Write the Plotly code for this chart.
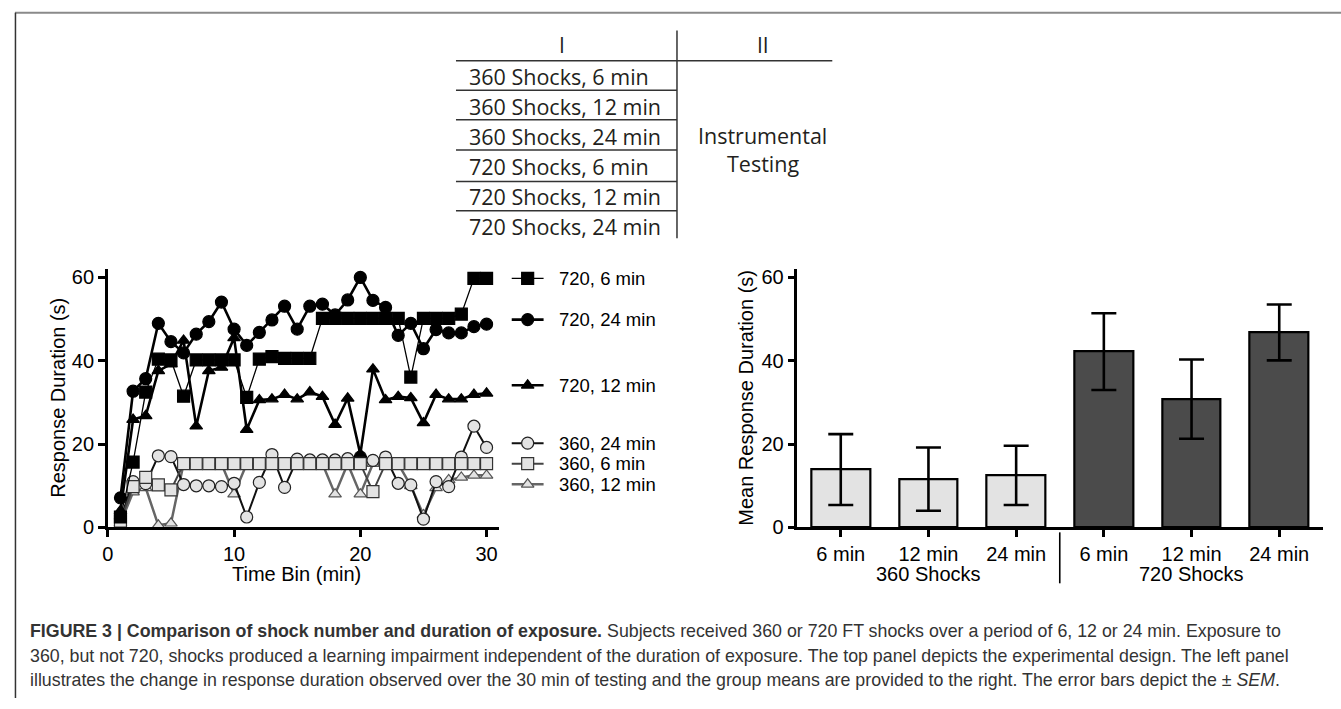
import plotly.graph_objects as go

W, H = 1341, 709
def fx(px):
    return px / W
def fy(py):
    return 1 - py / H

FONT = "Liberation Sans, Arial, sans-serif"
TFONT = "Open Sans, Noto Sans, sans-serif"

# ---------------- data ----------------
bins = list(range(1, 31))
s720_6 = [2.5, 15.7, 32.5, 40.4, 40.2, 31.5, 40.2, 40.2, 40.2, 40.2,
          31.2, 40.4, 41.0, 40.6, 40.6, 40.6, 50.2, 50.2, 50.2, 50.2,
          50.2, 50.2, 50.2, 36.1, 50.2, 50.2, 50.2, 51.2, 59.8, 59.8]
s720_24 = [7.1, 32.7, 35.7, 49.0, 44.6, 41.9, 46.4, 49.4, 54.1, 47.6,
           43.7, 46.8, 49.8, 53.1, 47.6, 53.1, 53.6, 51.0, 54.6, 60.0,
           54.5, 52.8, 46.1, 49.0, 42.9, 47.5, 46.7, 46.7, 48.2, 48.8]
s720_12 = [4.0, 25.9, 26.8, 37.6, 39.2, 44.9, 24.3, 37.6, 38.4, 45.5,
           23.5, 30.6, 30.8, 31.9, 30.8, 32.5, 31.4, 24.7, 31.0, 17.6,
           38.0, 30.6, 31.4, 31.1, 25.1, 31.9, 30.8, 30.8, 31.9, 32.2]
s360_24 = [2.0, 11.0, 10.5, 17.2, 17.0, 10.3, 10.0, 10.0, 9.8, 10.6,
           2.5, 10.8, 17.5, 9.6, 16.4, 16.2, 16.2, 16.2, 16.5, 16.9,
           16.1, 16.9, 10.6, 10.2, 2.0, 11.0, 9.8, 16.9, 24.3, 19.2]
s360_6 = [1.5, 9.8, 12.0, 10.2, 9.0, 15.3, 15.3, 15.3, 15.3, 15.3,
          15.3, 15.3, 15.3, 15.3, 15.3, 15.3, 15.3, 15.3, 15.3, 15.3,
          8.6, 15.3, 15.3, 15.3, 15.3, 15.3, 15.3, 15.3, 15.3, 15.3]
s360_12 = [1.0, 8.5, 9.5, 0.5, 1.0, 15.3, 15.3, 15.3, 15.3, 8.0,
           15.3, 15.3, 15.3, 15.3, 15.3, 15.3, 15.3, 8.0, 15.3, 8.0,
           15.3, 15.3, 15.3, 10.0, 3.0, 9.5, 11.4, 12.0, 12.5, 12.5]

bar_labels = ["6 min", "12 min", "24 min", "6 min", "12 min", "24 min"]
bar_means = [13.9, 11.6, 12.5, 42.2, 30.8, 46.8]
bar_sem = [8.5, 7.6, 7.1, 9.2, 9.5, 6.7]
bar_groups = ["360 Shocks", "720 Shocks"]

table_col1 = ["360 Shocks, 6 min", "360 Shocks, 12 min", "360 Shocks, 24 min",
              "720 Shocks, 6 min", "720 Shocks, 12 min", "720 Shocks, 24 min"]
table_headers = ["I", "II"]
table_col2 = ["Instrumental", "Testing"]

y_ticks = [0, 20, 40, 60]
x_ticks = [0, 10, 20, 30]

LIGHT = "#e3e3e3"
series = [
    # name, values, symbol, marker fill, marker line color, line color, line width, marker size
    ("360, 12 min", s360_12, "triangle-up", LIGHT, "#555555", "#666666", 2.5, 11),
    ("360, 24 min", s360_24, "circle", LIGHT, "#222222", "#111111", 2.0, 12),
    ("360, 6 min", s360_6, "square", LIGHT, "#333333", "#444444", 2.0, 12),
    ("720, 6 min", s720_6, "square", "#000000", "#000000", "#000000", 1.3, 12),
    ("720, 12 min", s720_12, "triangle-up", "#000000", "#000000", "#000000", 2.6, 11),
    ("720, 24 min", s720_24, "circle", "#000000", "#000000", "#000000", 2.6, 12),
]
style = {s[0]: s for s in series}

legend_order = ["720, 6 min", "720, 24 min", "720, 12 min",
                "360, 24 min", "360, 6 min", "360, 12 min"]
legend_rows_px = [281, 323, 390, 449, 470, 491]

fig = go.Figure()

for name, vals, sym, fill, mline, lcol, lw, msz in series:
    fig.add_trace(go.Scatter(
        x=bins, y=vals, mode="lines+markers", name=name,
        line=dict(color=lcol, width=lw),
        marker=dict(symbol=sym, size=msz, color=fill, line=dict(color=mline, width=1.2)),
        cliponaxis=False, showlegend=False, xaxis="x", yaxis="y"))

# bars
bar_x = list(range(len(bar_means)))
bar_colors = [LIGHT, LIGHT, LIGHT, "#4b4b4b", "#4b4b4b", "#4b4b4b"]
fig.add_trace(go.Bar(
    x=bar_x, y=bar_means, width=0.67,
    marker=dict(color=bar_colors, line=dict(color="#000000", width=2.2)),
    error_y=dict(type="data", array=bar_sem, visible=True, color="#000000",
                 thickness=2.6, width=12.5),
    showlegend=False, xaxis="x2", yaxis="y2"))

# legend symbols (pixel overlay axes spanning the whole page)
for name, ypx in zip(legend_order, legend_rows_px):
    _, _, sym, fill, mline, lcol, lw, msz = style[name]
    fig.add_trace(go.Scatter(
        x=[508, 540], y=[ypx, ypx], mode="lines", line=dict(color=lcol, width=lw),
        showlegend=False, xaxis="x3", yaxis="y3", cliponaxis=False, hoverinfo="skip"))
    fig.add_trace(go.Scatter(
        x=[524], y=[ypx], mode="markers",
        marker=dict(symbol=sym, size=msz, color=fill, line=dict(color=mline, width=1.2)),
        showlegend=False, xaxis="x3", yaxis="y3", cliponaxis=False, hoverinfo="skip"))

axis_common = dict(showline=True, linecolor="#000000", linewidth=2.6,
                   ticks="outside", ticklen=7, tickwidth=2.6, tickcolor="#000000",
                   showgrid=False, zeroline=False,
                   tickfont=dict(family=FONT, size=20, color="#000000"))

ydom = [fy(535), fy(271.5)]
fig.update_layout(
    width=W, height=H, autosize=False,
    margin=dict(l=0, r=0, t=0, b=0),
    paper_bgcolor="#ffffff", plot_bgcolor="rgba(0,0,0,0)",
    xaxis=dict(domain=[fx(102.3), fx(495.4)], range=[0, 31], tickvals=x_ticks,
               anchor="y", **axis_common),
    yaxis=dict(domain=ydom, range=[0, 62], tickvals=y_ticks, anchor="x", **axis_common),
    xaxis2=dict(domain=[fx(795), fx(1323)], range=[-0.494, 5.5], tickvals=bar_x,
                ticktext=bar_labels, anchor="y2", **axis_common),
    yaxis2=dict(domain=ydom, range=[0, 62], tickvals=y_ticks, anchor="x2", **axis_common),
    xaxis3=dict(domain=[0, 1], range=[0, W], visible=False, anchor="y3"),
    yaxis3=dict(domain=[0, 1], range=[H, 0], visible=False, anchor="x3"),
    bargap=0,
)

ann = []
shapes = []

def text(x, y, s, size=20, family=FONT, xanchor="center", angle=0, color="#000000"):
    ann.append(dict(x=fx(x), y=fy(y), xref="paper", yref="paper", text=s,
                    showarrow=False, xanchor=xanchor, yanchor="middle", textangle=angle,
                    font=dict(family=family, size=size, color=color)))

def line(x0, y0, x1, y1, color="#000000", width=1.5):
    shapes.append(dict(type="line", xref="paper", yref="paper",
                       x0=fx(x0), y0=fy(y0), x1=fx(x1), y1=fy(y1),
                       line=dict(color=color, width=width)))

# figure frame
line(9, 10, W, 10, color="#8a8a8a", width=2)
line(9.5, 10, 9.5, H, color="#333333", width=1.5)

# design table
line(674, 28, 674, 240, color="#333333", width=1.5)
line(452, 59, 830, 59, color="#333333", width=1.5)
for yy in [89, 119, 150, 182, 212]:
    line(452, yy, 674, yy, color="#333333", width=1.5)
text(558, 43, table_headers[0], size=21, family=TFONT, color="#231f20")
text(760, 43, table_headers[1], size=21, family=TFONT, color="#231f20")
for i, lab in enumerate(table_col1):
    text(463, 75 + i * 30.6, lab, size=21.5, family=TFONT, xanchor="left", color="#231f20")
text(760, 135, table_col2[0], size=21.5, family=TFONT, color="#231f20")
text(760, 164, table_col2[1], size=21.5, family=TFONT, color="#231f20")

# legend text
for name, ypx in zip(legend_order, legend_rows_px):
    text(553, ypx, name, size=18.5, xanchor="left")

# axis titles
text(52, 403, "Response Duration (s)", size=20, angle=-90)
text(292, 582, "Time Bin (min)", size=20)
text(743, 403, "Mean Response Duration (s)", size=20, angle=-90)
text(926.5, 582, bar_groups[0], size=20)
text(1191, 582, bar_groups[1], size=20)
line(1058.5, 540, 1058.5, 592, color="#000000", width=1.6)

# caption
cap = [
    "<b>FIGURE 3 | Comparison of shock number and duration of exposure.</b> Subjects received 360 or 720 FT shocks over a period of 6, 12 or 24 min. Exposure to",
    "360, but not 720, shocks produced a learning impairment independent of the duration of exposure. The top panel depicts the experimental design. The left panel",
    "illustrates the change in response duration observed over the 30 min of testing and the group means are provided to the right. The error bars depict the \u00b1 <i>SEM</i>.",
]
for i, s in enumerate(cap):
    text(22, 641 + i * 25, s, size=17.8, xanchor="left", color="#333333")

fig.update_layout(annotations=ann, shapes=shapes)
fig.write_html("out.html")
